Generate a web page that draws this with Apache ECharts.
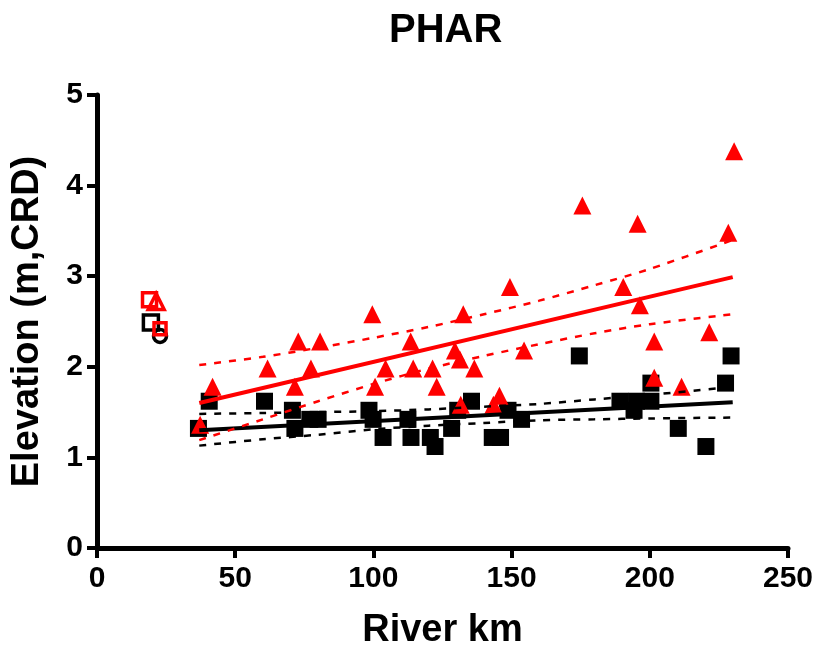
<!DOCTYPE html>
<html style="height: 100%">
<head>
<meta charset="utf-8">
<script src="https://cdn.jsdelivr.net/npm/echarts@6/dist/echarts.min.js"></script>
</head>
<body style="height: 100%; margin: 0; background: #fff">
<div id="container" style="width: 817px; height: 657px"></div>
<script>
// filled squares (black) : [river km, elevation]
var blackPts = [
  [36.7, 1.32], [40.6, 1.62], [60.6, 1.62], [70.7, 1.52], [71.6, 1.32],
  [77, 1.42], [80, 1.42], [98.4, 1.52], [99.9, 1.42], [103.5, 1.22],
  [112.5, 1.42], [113.6, 1.22], [120.6, 1.22], [122.3, 1.12], [128.3, 1.32],
  [130.5, 1.52], [135.5, 1.62], [143, 1.22], [146, 1.22], [148.7, 1.52],
  [153.6, 1.42], [174.5, 2.12], [189.2, 1.62], [194.3, 1.52], [195.2, 1.62],
  [200.4, 1.62], [200.4, 1.82], [210.3, 1.32], [220.3, 1.12], [227.4, 1.82],
  [229.4, 2.12]
];
// filled triangles (red)
var redPts = [
  [37.3, 1.36], [41.8, 1.78], [61.7, 1.98], [71.6, 1.78], [72.8, 2.28],
  [77.4, 1.98], [80.7, 2.28], [99.6, 2.58], [100.6, 1.78], [104.4, 1.98],
  [113.5, 2.28], [114.4, 1.98], [121.4, 1.98], [122.9, 1.78], [129.5, 2.18],
  [131.3, 2.08], [131.6, 1.58], [132.5, 2.58], [136.5, 1.98], [143.4, 1.58],
  [145.6, 1.68], [149.4, 2.88], [154.5, 2.18], [175.6, 3.78], [190.4, 2.88],
  [195.6, 3.58], [196.4, 2.68], [201.6, 2.28], [201.6, 1.88], [211.5, 1.78],
  [221.5, 2.38], [228.4, 3.48], [230.5, 4.38]
];
// open markers near km 20
var openRedSq = [[19, 2.74]];
var openRedTri = [[21.4, 2.72]];
var openBlackSq = [[19.5, 2.49]];
var openRedSmall = [[22.8, 2.42]];
var openBlackCircle = [[22.8, 2.34]];

// fit lines and 95% bands
var bandX = [37, 60, 80, 100, 120, 140, 160, 180, 200, 230];
var redFit = [[37, 1.60], [230, 2.99]];
var redUpper = [2.02, 2.11, 2.21, 2.32, 2.44, 2.58, 2.73, 2.90, 3.08, 3.40];
var redLower = [1.19, 1.42, 1.62, 1.81, 1.98, 2.12, 2.25, 2.37, 2.47, 2.58];
var blackFit = [[37, 1.30], [230, 1.61]];
var blackUpper = [1.48, 1.49, 1.50, 1.51, 1.53, 1.56, 1.59, 1.64, 1.69, 1.78];
var blackLower = [1.13, 1.20, 1.25, 1.31, 1.35, 1.38, 1.41, 1.42, 1.43, 1.44];

var xTicks = [0, 50, 100, 150, 200, 250];
var yTicks = [0, 1, 2, 3, 4, 5];

function pair(ys) {
  return bandX.map(function (x, i) { return [x, ys[i]]; });
}

var font = 'Liberation Sans, Arial, sans-serif';
var myChart = echarts.init(document.getElementById('container'));

function lineSeries(data, color, width, dashed) {
  return {
    type: 'line', data: data, showSymbol: false, smooth: dashed ? 0.3 : false,
    lineStyle: { color: color, width: width, type: dashed ? [7, 8] : 'solid' },
    z: 5, silent: true
  };
}
function openSeries(data, symbol, size, color) {
  return {
    type: 'scatter', data: data, symbol: symbol, symbolSize: size,
    itemStyle: { color: 'rgba(0,0,0,0)', borderColor: color, borderWidth: 3.5, opacity: 1 }
  };
}

var option = {
  animation: false,
  title: {
    text: 'PHAR', left: 384, top: 6,
    textStyle: { fontFamily: font, fontWeight: 'bold', fontSize: 40, color: '#000' }
  },
  grid: { left: 97, right: 29, top: 95, bottom: 109 },
  xAxis: {
    type: 'value', min: 0, max: 250, interval: 50,
    name: 'River km', nameLocation: 'middle', nameGap: 64,
    nameTextStyle: { fontFamily: font, fontWeight: 'bold', fontSize: 38, color: '#000' },
    axisLine: { show: true, onZero: false, lineStyle: { color: '#000', width: 5 } },
    axisTick: { show: true, length: 10, lineStyle: { color: '#000', width: 4 } },
    axisLabel: {
      margin: 16, fontFamily: font, fontWeight: 'bold', fontSize: 30, color: '#000',
      formatter: function (v) { return xTicks.indexOf(v) >= 0 ? String(v) : ''; }
    },
    splitLine: { show: false }
  },
  yAxis: {
    type: 'value', min: 0, max: 5, interval: 1,
    name: 'Elevation (m,CRD)', nameLocation: 'middle', nameGap: 50,
    nameTextStyle: { fontFamily: font, fontWeight: 'bold', fontSize: 38, color: '#000' },
    axisLine: { show: true, onZero: false, lineStyle: { color: '#000', width: 5 } },
    axisTick: { show: true, length: 10, lineStyle: { color: '#000', width: 4 } },
    axisLabel: {
      margin: 14, fontFamily: font, fontWeight: 'bold', fontSize: 30, color: '#000',
      formatter: function (v) { return yTicks.indexOf(v) >= 0 ? String(v) : ''; }
    },
    splitLine: { show: false }
  },
  series: [
    { type: 'scatter', data: blackPts, symbol: 'rect', symbolSize: 17, itemStyle: { color: '#000', opacity: 1 } },
    { type: 'scatter', data: redPts, symbol: 'triangle', symbolSize: 18, itemStyle: { color: '#ff0000', opacity: 1 } },
    openSeries(openBlackSq, 'rect', 15, '#000'),
    openSeries(openBlackCircle, 'circle', 13, '#000'),
    openSeries(openRedSq, 'rect', 14, '#ff0000'),
    openSeries(openRedTri, 'triangle', 16, '#ff0000'),
    openSeries(openRedSmall, 'rect', 12, '#ff0000'),
    lineSeries(blackFit, '#000', 4, false),
    lineSeries(pair(blackUpper), '#000', 2.5, true),
    lineSeries(pair(blackLower), '#000', 2.5, true),
    lineSeries(redFit, '#ff0000', 4, false),
    lineSeries(pair(redUpper), '#ff0000', 2.5, true),
    lineSeries(pair(redLower), '#ff0000', 2.5, true)
  ]
};
myChart.setOption(option);
</script>
</body>
</html>
